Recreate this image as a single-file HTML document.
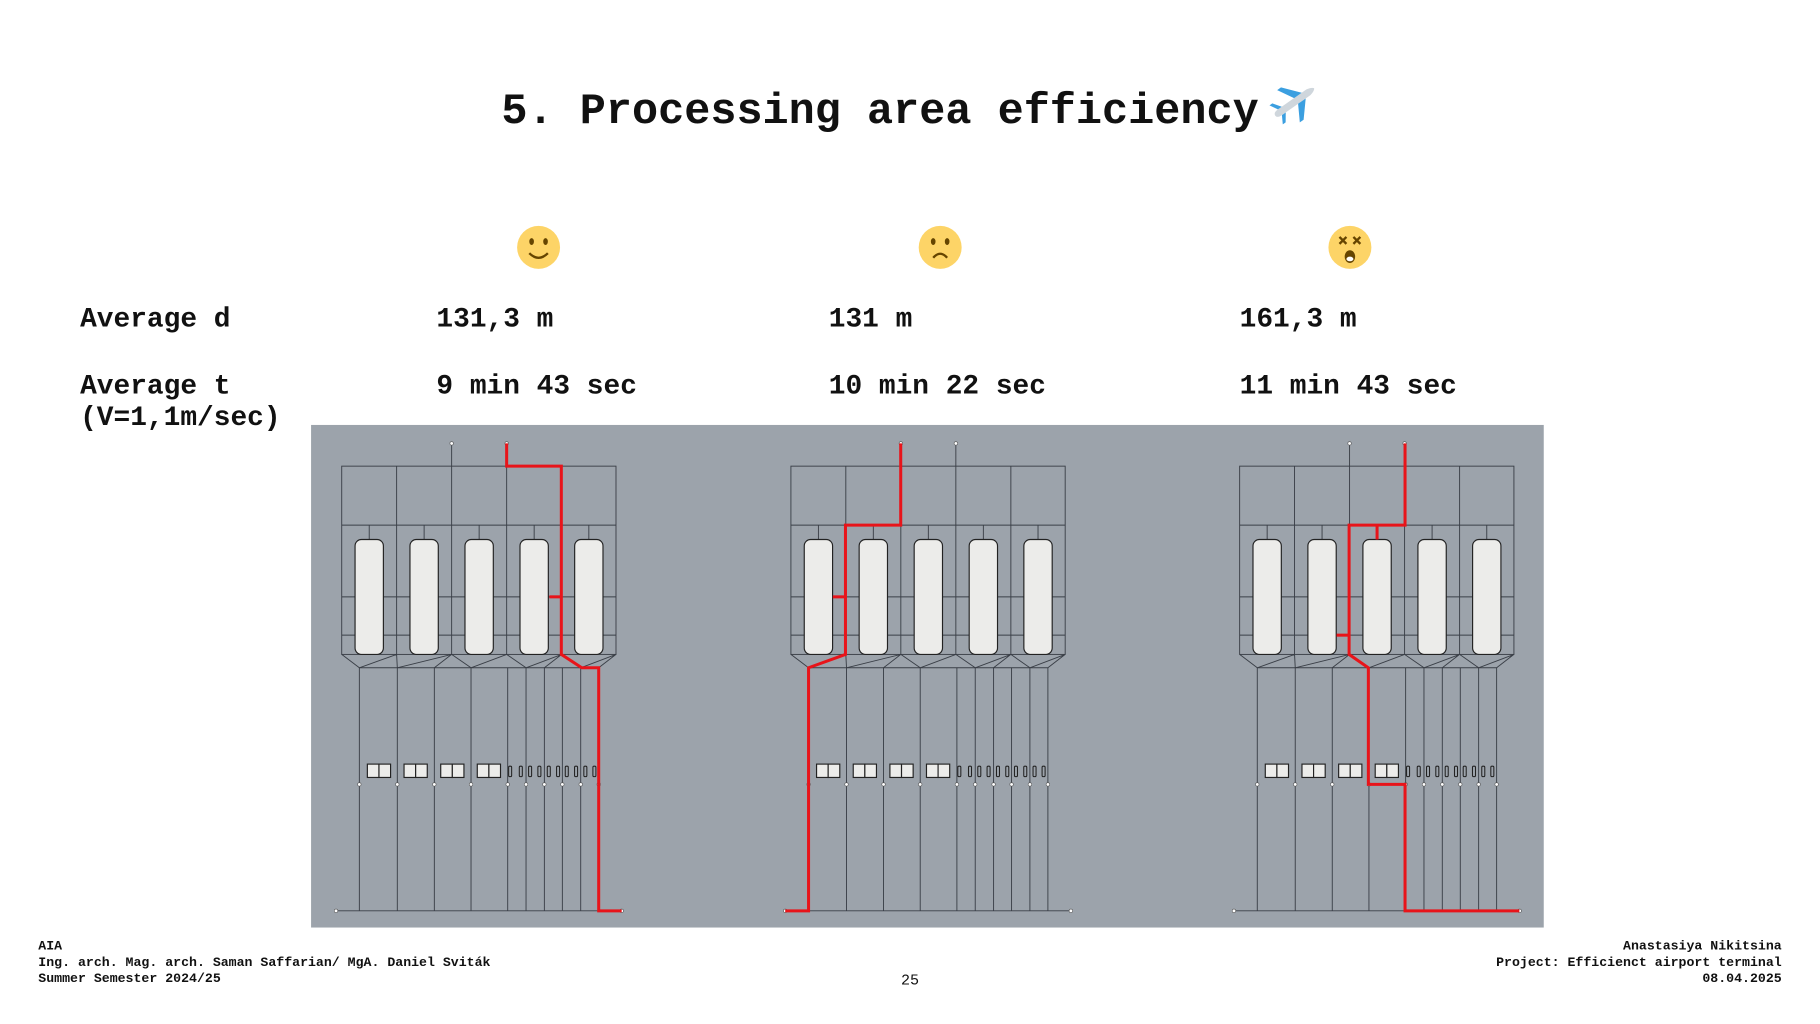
<!DOCTYPE html>
<html><head><meta charset="utf-8"><style>
html,body{margin:0;padding:0;background:#fff;}
svg{display:block;}
text{font-family:"Liberation Mono",monospace;font-weight:bold;fill:#111;}
</style></head><body>
<svg width="1820" height="1024" viewBox="0 0 1568 882" xmlns="http://www.w3.org/2000/svg">
<defs>
<g id="d">
 <g stroke="#3a3f47" stroke-width="0.8" fill="none">
  <line x1="389.1" y1="381.9" x2="389.1" y2="401.5"/>
  <line x1="436.5" y1="381.9" x2="436.5" y2="401.5"/>
  <rect x="294.4" y="401.5" width="236.3" height="162.2"/>
  <line x1="341.7" y1="401.5" x2="341.7" y2="563.7"/>
  <line x1="389.1" y1="401.5" x2="389.1" y2="563.7"/>
  <line x1="436.5" y1="401.5" x2="436.5" y2="563.7"/>
  <line x1="483.9" y1="401.5" x2="483.9" y2="563.7"/>
  <line x1="294.4" y1="452.3" x2="530.7" y2="452.3"/>
  <line x1="294.4" y1="514.1" x2="530.7" y2="514.1"/>
  <line x1="294.4" y1="547.1" x2="530.7" y2="547.1"/>
  <line x1="318.1" y1="452.3" x2="318.1" y2="464.7"/>
  <line x1="365.4" y1="452.3" x2="365.4" y2="464.7"/>
  <line x1="412.8" y1="452.3" x2="412.8" y2="464.7"/>
  <line x1="460.2" y1="452.3" x2="460.2" y2="464.7"/>
  <line x1="507.3" y1="452.3" x2="507.3" y2="464.7"/>
  <line x1="309.6" y1="575.2" x2="515.8" y2="575.2"/>
  <path d="M294.4,563.7 L309.6,575.2 M341.7,563.7 L309.6,575.2 M341.7,563.7 L342.3,575.2 M389.1,563.7 L342.3,575.2 M389.1,563.7 L374.2,575.2 M389.1,563.7 L405.8,575.2 M436.5,563.7 L405.8,575.2 M436.5,563.7 L453.2,575.2 M483.9,563.7 L469,575.2 M483.9,563.7 L453.2,575.2 M483.9,563.7 L500.3,575.2 M530.7,563.7 L515.8,575.2 M530.7,563.7 L500.3,575.2"/>
  <path d="M309.6,575.2V784.6 M342.3,575.2V784.6 M374.2,575.2V784.6 M405.8,575.2V784.6 M437.4,575.2V784.6 M453.2,575.2V784.6 M469,575.2V784.6 M484.5,575.2V784.6 M500.3,575.2V784.6 M515.8,575.2V784.6"/>
  <line x1="289.5" y1="784.6" x2="535.6" y2="784.6"/>
 </g>
 <g fill="#ececea" stroke="#222" stroke-width="1">
  <rect x="305.9" y="464.7" width="24.4" height="99" rx="5.5"/>
  <rect x="353.2" y="464.7" width="24.4" height="99" rx="5.5"/>
  <rect x="400.6" y="464.7" width="24.4" height="99" rx="5.5"/>
  <rect x="448" y="464.7" width="24.4" height="99" rx="5.5"/>
  <rect x="495.1" y="464.7" width="24.4" height="99" rx="5.5"/>
  <rect x="316.5" y="658.2" width="10" height="11.5"/><rect x="326.5" y="658.2" width="10" height="11.5"/>
  <rect x="348.1" y="658.2" width="10" height="11.5"/><rect x="358.1" y="658.2" width="10" height="11.5"/>
  <rect x="379.7" y="658.2" width="10" height="11.5"/><rect x="389.7" y="658.2" width="10" height="11.5"/>
  <rect x="411.2" y="658.2" width="10" height="11.5"/><rect x="421.2" y="658.2" width="10" height="11.5"/>
 </g>
 <g fill="none" stroke="#222" stroke-width="0.9">
  <rect x="438.2" y="660" width="2.6" height="9" rx="1"/>
  <rect x="447.4" y="660" width="2.6" height="9" rx="1"/>
  <rect x="455.4" y="660" width="2.6" height="9" rx="1"/>
  <rect x="463.4" y="660" width="2.6" height="9" rx="1"/>
  <rect x="471.5" y="660" width="2.6" height="9" rx="1"/>
  <rect x="479.5" y="660" width="2.6" height="9" rx="1"/>
  <rect x="487" y="660" width="2.6" height="9" rx="1"/>
  <rect x="495" y="660" width="2.6" height="9" rx="1"/>
  <rect x="503" y="660" width="2.6" height="9" rx="1"/>
  <rect x="510.8" y="660" width="2.6" height="9" rx="1"/>
 </g>
 <g fill="#fff" stroke="#555" stroke-width="0.5">
  <circle cx="389.1" cy="381.9" r="1.5"/><circle cx="436.5" cy="381.9" r="1.5"/>
  <circle cx="289.5" cy="784.6" r="1.5"/><circle cx="535.6" cy="784.6" r="1.5"/>
  <circle cx="309.6" cy="675.7" r="1.5"/><circle cx="342.3" cy="675.7" r="1.5"/><circle cx="374.2" cy="675.7" r="1.5"/><circle cx="405.8" cy="675.7" r="1.5"/><circle cx="437.4" cy="675.7" r="1.5"/><circle cx="453.2" cy="675.7" r="1.5"/><circle cx="469" cy="675.7" r="1.5"/><circle cx="484.5" cy="675.7" r="1.5"/><circle cx="500.3" cy="675.7" r="1.5"/><circle cx="515.8" cy="675.7" r="1.5"/>
 </g>
</g>
</defs>

<text x="432" y="106" font-size="37.5">5. Processing area efficiency</text>
<g transform="translate(1115,88) rotate(-35)">
 <path d="M-20,0 Q-20,-3 -15,-3 L15,-3 Q20,-2 21,0 Q20,2 15,3 L-15,3 Q-20,3 -20,0Z" fill="#cfd6dc"/>
 <path d="M2,-3 L-6,-17 L-2,-17 L10,-3Z M2,3 L-6,17 L-2,17 L10,3Z M-15,-3 L-19,-10 L-16,-10 L-11,-3Z M-15,3 L-19,10 L-16,10 L-11,3Z" fill="#3b9fe0"/>
</g>

<g>
 <circle cx="464" cy="213" r="18.5" fill="#fdd467"/>
 <ellipse cx="458" cy="208" rx="2" ry="3" fill="#664500"/><ellipse cx="470" cy="208" rx="2" ry="3" fill="#664500"/>
 <path d="M456,218 Q464,226 472,218" stroke="#664500" stroke-width="2" fill="none"/>
 <circle cx="810" cy="213" r="18.5" fill="#fdd467"/>
 <ellipse cx="804" cy="208" rx="2" ry="3" fill="#664500"/><ellipse cx="816" cy="208" rx="2" ry="3" fill="#664500"/>
 <path d="M804,222 Q810,215 816,222" stroke="#664500" stroke-width="2" fill="none"/>
 <circle cx="1163" cy="213" r="18.5" fill="#fdd467"/>
 <path d="M1154,204 l6,6 m0,-6 l-6,6 M1166,204 l6,6 m0,-6 l-6,6" stroke="#664500" stroke-width="2"/>
 <ellipse cx="1163" cy="221" rx="4.5" ry="5.5" fill="#664500"/>
 <ellipse cx="1163" cy="223" rx="3" ry="2" fill="#fff"/>
</g>

<text x="69" y="281" font-size="24">Average d</text>
<text x="376" y="281" font-size="24">131,3 m</text>
<text x="714" y="281" font-size="24">131 m</text>
<text x="1068" y="281" font-size="24">161,3 m</text>
<text x="69" y="339" font-size="24">Average t</text>
<text x="69" y="366" font-size="24">(V=1,1m/sec)</text>
<text x="376" y="339" font-size="24">9 min 43 sec</text>
<text x="714" y="339" font-size="24">10 min 22 sec</text>
<text x="1068" y="339" font-size="24">11 min 43 sec</text>

<rect x="268" y="366" width="1062" height="433" fill="#9ca3ab"/>
<use href="#d"/>
<use href="#d" transform="translate(387,0)"/>
<use href="#d" transform="translate(773.6,0)"/>

<g stroke="#e8141a" stroke-width="2.6" fill="none" stroke-linejoin="miter">
 <path d="M436.5,381.9 V401.5 H483.6 V563.7 L501.2,575.2 H515.8 V784.6 H535.6"/>
 <path d="M473.3,514.1 H483.6"/>
 <path d="M776,381.9 V452.3 H728.4 V563.7 L696.6,575.2 V784.6 H676.5"/>
 <path d="M717.5,514.1 H728.4"/>
 <path d="M1210.5,381.9 V452.3 H1162.3 V563.7 L1178.9,575.2 V675.7 H1210.5 V784.6 H1309"/>
 <path d="M1186.4,452.3 V464.7"/>
 <path d="M1151.5,547.1 H1162.3"/>
</g>

<text x="33" y="818" font-size="11.4">AIA</text>
<text x="33" y="832" font-size="11.4">Ing. arch. Mag. arch. Saman Saffarian/ MgA. Daniel Sviták</text>
<text x="33" y="846" font-size="11.4">Summer Semester 2024/25</text>
<text x="1535" y="818" font-size="11.4" text-anchor="end">Anastasiya Nikitsina</text>
<text x="1535" y="832" font-size="11.4" text-anchor="end">Project: Efficienct airport terminal</text>
<text x="1535" y="846" font-size="11.4" text-anchor="end">08.04.2025</text>
<text x="784" y="848" font-size="13" text-anchor="middle" style="font-weight:normal">25</text>
</svg>
</body></html>
